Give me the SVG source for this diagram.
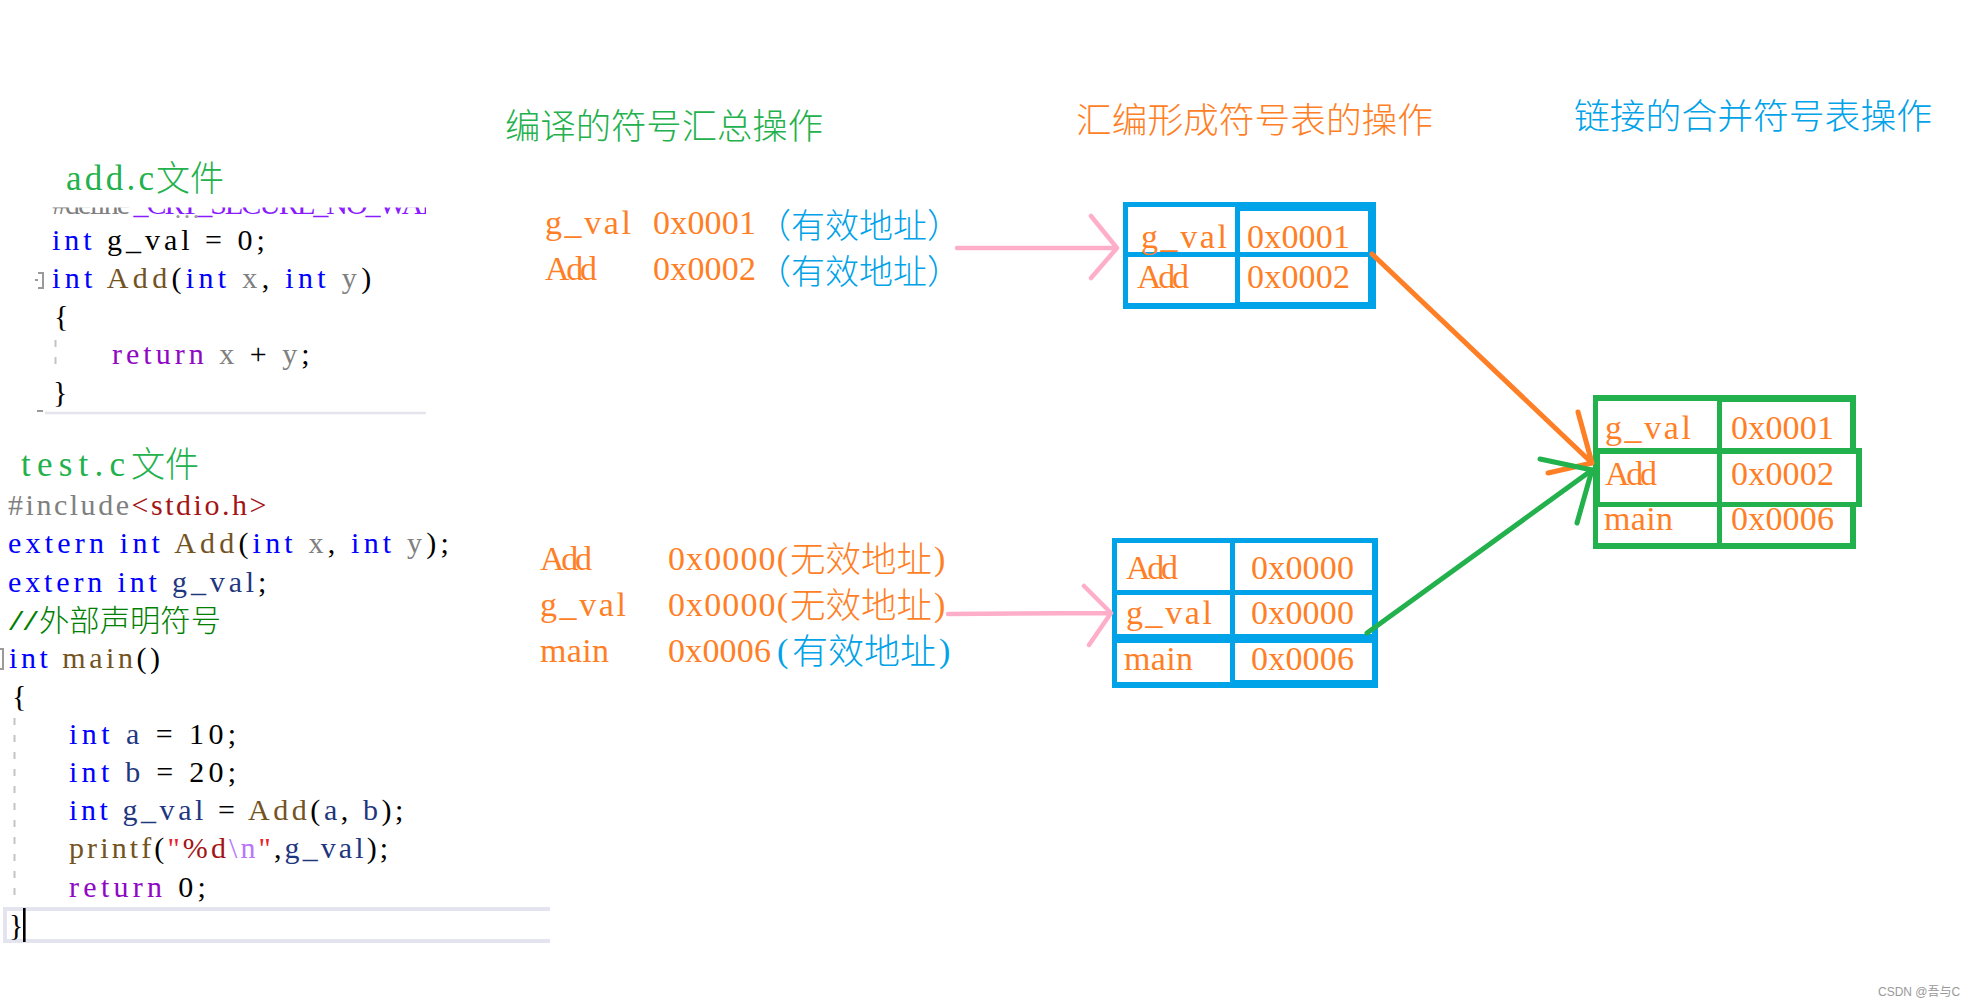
<svg xmlns="http://www.w3.org/2000/svg" width="1975" height="1008" viewBox="0 0 1975 1008">
<defs>
<style>
.mono{font-family:"Liberation Serif","DejaVu Serif",serif}
.code{font-size:30px;fill:#000}
.cjk{font-family:"Noto Sans CJK SC","Noto Sans CJK JP",sans-serif;font-weight:300}
.kw{fill:#0000ff}.fn{fill:#74531f}.pm{fill:#808080}.rt{fill:#8f08c4}.cm{fill:#008000}.str{fill:#a31515}.lv{fill:#1f377f}.esc{fill:#b776fb}.mac{fill:#8a1bff}.q{fill:#e8202a}.blk{fill:#000}
.or{fill:#ff7f27}.bl{fill:#00a2e8}.gr{fill:#22b14c}
.lbl{font-size:34px}
.ttl{font-size:35px}
.cell{fill:#fff}
.guide{stroke:#c4c4c4;stroke-width:2;stroke-dasharray:7 10;fill:none}
.fold{stroke:#9a9a9a;stroke-width:2;fill:none}
.pink{fill:none;stroke:#ffaec9;stroke-width:4.5;stroke-linecap:round;stroke-linejoin:round}
.orl{fill:none;stroke:#ff7f27;stroke-width:5;stroke-linecap:round;stroke-linejoin:round}
.grl{fill:none;stroke:#22b14c;stroke-width:5;stroke-linecap:round;stroke-linejoin:round}
</style>
<clipPath id="clipDef"><rect x="38" y="207.5" width="388" height="12"/></clipPath>
</defs>
<rect x="0" y="0" width="1975" height="1008" fill="#fff"/>

<g id="code-add">
<text class="mono ttl gr" x="66" y="190" textLength="88" lengthAdjust="spacing">add.c</text>
<text class="cjk ttl gr" x="156" y="191" textLength="68" lengthAdjust="spacingAndGlyphs">文件</text>
<text class="mono code" x="52" y="214" textLength="471" lengthAdjust="spacing" clip-path="url(#clipDef)"><tspan class="pm">#define</tspan> <tspan class="mac">_CRT_SECURE_NO_WARNINGS</tspan></text>
<circle cx="178" cy="216.5" r="1.6" fill="#999"/><circle cx="187" cy="216.5" r="1.6" fill="#999"/><circle cx="196" cy="216.5" r="1.6" fill="#999"/>
<text class="mono code" x="52" y="250" textLength="212.8" lengthAdjust="spacing"><tspan class="kw">int</tspan> g_val = 0;</text>
<path class="fold" d="M38,273 H43 V288 H38 M35,280 H38"/>
<text class="mono code" x="52" y="288" textLength="319.2" lengthAdjust="spacing"><tspan class="kw">int</tspan> <tspan class="fn">Add</tspan>(<tspan class="kw">int</tspan> <tspan class="pm">x</tspan>, <tspan class="kw">int</tspan> <tspan class="pm">y</tspan>)</text>
<text class="mono code" x="54" y="326">{</text>
<path class="guide" d="M55.5,340 V374"/>
<text class="mono code" x="112" y="364" textLength="197.6" lengthAdjust="spacing"><tspan class="rt">return</tspan> <tspan class="pm">x</tspan> + <tspan class="pm">y</tspan>;</text>
<text class="mono code" x="53" y="402">}</text>
<path class="fold" d="M37,411 H43"/>
<path d="M45,413 H426" stroke="#e4e4ec" stroke-width="2.5"/>
</g>

<g id="code-test">
<text class="mono ttl gr" x="21" y="476" textLength="104" lengthAdjust="spacing">test.c</text>
<text class="cjk ttl gr" x="131" y="477" textLength="68" lengthAdjust="spacingAndGlyphs">文件</text>
<text class="mono code" x="8" y="515" textLength="258.4" lengthAdjust="spacing"><tspan class="pm">#include</tspan><tspan class="str">&lt;stdio.h&gt;</tspan></text>
<text class="mono code" x="8" y="553" textLength="440.8" lengthAdjust="spacing"><tspan class="kw">extern</tspan> <tspan class="kw">int</tspan> <tspan class="fn">Add</tspan>(<tspan class="kw">int</tspan> <tspan class="pm">x</tspan>, <tspan class="kw">int</tspan> <tspan class="pm">y</tspan>);</text>
<text class="mono code" x="8" y="592" textLength="258.4" lengthAdjust="spacing"><tspan class="kw">extern</tspan> <tspan class="kw">int</tspan> <tspan class="lv">g_val</tspan>;</text>
<text class="mono code cm" x="9" y="630" textLength="29" lengthAdjust="spacingAndGlyphs">//</text>
<text class="cjk cm" font-size="30" x="39" y="631" textLength="182" lengthAdjust="spacingAndGlyphs">外部声明符号</text>
<path class="fold" d="M0,649 H3 V669 H0"/>
<text class="mono code" x="9" y="668" textLength="151" lengthAdjust="spacing"><tspan class="kw">int</tspan> <tspan class="fn">main</tspan>()</text>
<text class="mono code" x="12" y="706">{</text>
<path class="guide" d="M14.5,718 V905"/>
<text class="mono code" x="69" y="744" textLength="167.2" lengthAdjust="spacing"><tspan class="kw">int</tspan> <tspan class="lv">a</tspan> = 10;</text>
<text class="mono code" x="69" y="782" textLength="167.2" lengthAdjust="spacing"><tspan class="kw">int</tspan> <tspan class="lv">b</tspan> = 20;</text>
<text class="mono code" x="69" y="820" textLength="334.4" lengthAdjust="spacing"><tspan class="kw">int</tspan> <tspan class="lv">g_val</tspan> = <tspan class="fn">Add</tspan>(<tspan class="lv">a</tspan>, <tspan class="lv">b</tspan>);</text>
<text class="mono code" x="69" y="858" textLength="319.2" lengthAdjust="spacing"><tspan class="fn">printf</tspan>(<tspan class="q">"</tspan><tspan class="str">%d</tspan><tspan class="esc">\n</tspan><tspan class="q">"</tspan>,<tspan class="lv">g_val</tspan>);</text>
<text class="mono code" x="69" y="897" textLength="136.8" lengthAdjust="spacing"><tspan class="rt">return</tspan> 0;</text>
<path d="M550,909 H5 V941 H550" fill="none" stroke="#e4e4ee" stroke-width="4"/>
<text class="mono code" x="9" y="935">}</text>
<rect x="23" y="908" width="2.6" height="34" fill="#000"/>
</g>

<g id="list-compile">
<text class="cjk ttl gr" x="505" y="139" textLength="318" lengthAdjust="spacingAndGlyphs">编译的符号汇总操作</text>
<text class="mono lbl or" x="545" y="234" textLength="86" lengthAdjust="spacing">g_val</text>
<text class="mono lbl or" x="653" y="234" textLength="103" lengthAdjust="spacing">0x0001</text>
<text class="cjk lbl bl" x="757" y="238" textLength="204" lengthAdjust="spacingAndGlyphs">（有效地址）</text>
<text class="mono lbl or" x="545" y="280" textLength="52" lengthAdjust="spacing">Add</text>
<text class="mono lbl or" x="653" y="280" textLength="103" lengthAdjust="spacing">0x0002</text>
<text class="cjk lbl bl" x="757" y="284" textLength="204" lengthAdjust="spacingAndGlyphs">（有效地址）</text>
</g>

<g id="list-test">
<text class="mono lbl or" x="540" y="570" textLength="52" lengthAdjust="spacing">Add</text>
<text class="mono lbl or" x="668" y="570" textLength="120" lengthAdjust="spacing">0x0000(</text>
<text class="cjk or" font-size="35" x="790" y="572" textLength="142" lengthAdjust="spacingAndGlyphs">无效地址</text>
<text class="mono lbl or" x="934" y="570">)</text>
<text class="mono lbl or" x="540" y="616" textLength="86" lengthAdjust="spacing">g_val</text>
<text class="mono lbl or" x="668" y="616" textLength="120" lengthAdjust="spacing">0x0000(</text>
<text class="cjk or" font-size="35" x="790" y="618" textLength="142" lengthAdjust="spacingAndGlyphs">无效地址</text>
<text class="mono lbl or" x="934" y="616">)</text>
<text class="mono lbl or" x="540" y="662" textLength="69" lengthAdjust="spacing">main</text>
<text class="mono lbl or" x="668" y="662" textLength="103" lengthAdjust="spacing">0x0006</text>
<text class="mono lbl bl" x="777" y="662">(</text>
<text class="cjk bl" font-size="35" x="792" y="664" textLength="144" lengthAdjust="spacingAndGlyphs">有效地址</text>
<text class="mono lbl bl" x="939" y="662">)</text>
</g>

<g id="title-assemble">
<text class="cjk ttl or" x="1076" y="133" textLength="357" lengthAdjust="spacingAndGlyphs">汇编形成符号表的操作</text>
</g>

<g id="title-link">
<text class="cjk ttl bl" x="1574" y="129" textLength="358" lengthAdjust="spacingAndGlyphs">链接的合并符号表操作</text>
</g>

<g id="table-add">
<rect x="1123" y="202" width="253" height="107" fill="#00a2e8"/>
<rect class="cell" x="1128" y="207" width="107" height="45"/>
<rect class="cell" x="1240" y="211" width="128" height="41"/>
<rect class="cell" x="1128" y="257" width="107" height="46"/>
<rect class="cell" x="1240" y="257" width="128" height="45"/>
<text class="mono lbl or" x="1141" y="248" textLength="86" lengthAdjust="spacing">g_val</text>
<text class="mono lbl or" x="1247" y="248" textLength="103" lengthAdjust="spacing">0x0001</text>
<text class="mono lbl or" x="1137" y="288" textLength="52" lengthAdjust="spacing">Add</text>
<text class="mono lbl or" x="1247" y="288" textLength="103" lengthAdjust="spacing">0x0002</text>
</g>

<g id="table-test">
<rect x="1112" y="538" width="266" height="150" fill="#00a2e8"/>
<rect class="cell" x="1117" y="543" width="113" height="47"/>
<rect class="cell" x="1235" y="543" width="137" height="47"/>
<rect class="cell" x="1117" y="595" width="113" height="39"/>
<rect class="cell" x="1235" y="595" width="137" height="39"/>
<rect class="cell" x="1117" y="643" width="113" height="39"/>
<rect class="cell" x="1235" y="643" width="137" height="37"/>
<text class="mono lbl or" x="1126" y="579" textLength="52" lengthAdjust="spacing">Add</text>
<text class="mono lbl or" x="1251" y="579" textLength="103" lengthAdjust="spacing">0x0000</text>
<text class="mono lbl or" x="1126" y="624" textLength="86" lengthAdjust="spacing">g_val</text>
<text class="mono lbl or" x="1251" y="624" textLength="103" lengthAdjust="spacing">0x0000</text>
<text class="mono lbl or" x="1124" y="670" textLength="69" lengthAdjust="spacing">main</text>
<text class="mono lbl or" x="1251" y="670" textLength="103" lengthAdjust="spacing">0x0006</text>
</g>

<g id="table-link">
<rect x="1593" y="395" width="263" height="154" fill="#22b14c"/>
<rect x="1593" y="448" width="269" height="59" fill="#22b14c"/>
<rect class="cell" x="1598" y="401" width="119" height="47"/>
<rect class="cell" x="1722" y="402" width="128" height="46"/>
<rect class="cell" x="1600" y="454" width="117" height="48"/>
<rect class="cell" x="1722" y="454" width="134" height="48"/>
<rect class="cell" x="1598" y="507" width="119" height="36"/>
<rect class="cell" x="1722" y="507" width="128" height="36"/>
<text class="mono lbl or" x="1605" y="439" textLength="86" lengthAdjust="spacing">g_val</text>
<text class="mono lbl or" x="1731" y="439" textLength="103" lengthAdjust="spacing">0x0001</text>
<text class="mono lbl or" x="1605" y="485" textLength="52" lengthAdjust="spacing">Add</text>
<text class="mono lbl or" x="1731" y="485" textLength="103" lengthAdjust="spacing">0x0002</text>
<text class="mono lbl or" x="1604" y="530" textLength="69" lengthAdjust="spacing">main</text>
<text class="mono lbl or" x="1731" y="530" textLength="103" lengthAdjust="spacing">0x0006</text>
</g>

<g id="connectors">
<path class="pink" d="M957,248 H1115 M1091,216 L1117,248 L1091,278"/>
<path class="pink" d="M948,614 L1109,613 M1084,586 L1111,613 L1089,645"/>
<path class="orl" d="M1372,254 L1592,463 M1578,412 L1592,463 L1548,473"/>
<path class="grl" d="M1367,633 L1592,470 M1540,459 L1592,470 L1577,523"/>
</g>

<g id="watermark">
<text x="1878" y="996" font-family="'Liberation Sans','Noto Sans CJK SC',sans-serif" font-size="12" fill="#999">CSDN @吾与C</text>
</g>
</svg>
